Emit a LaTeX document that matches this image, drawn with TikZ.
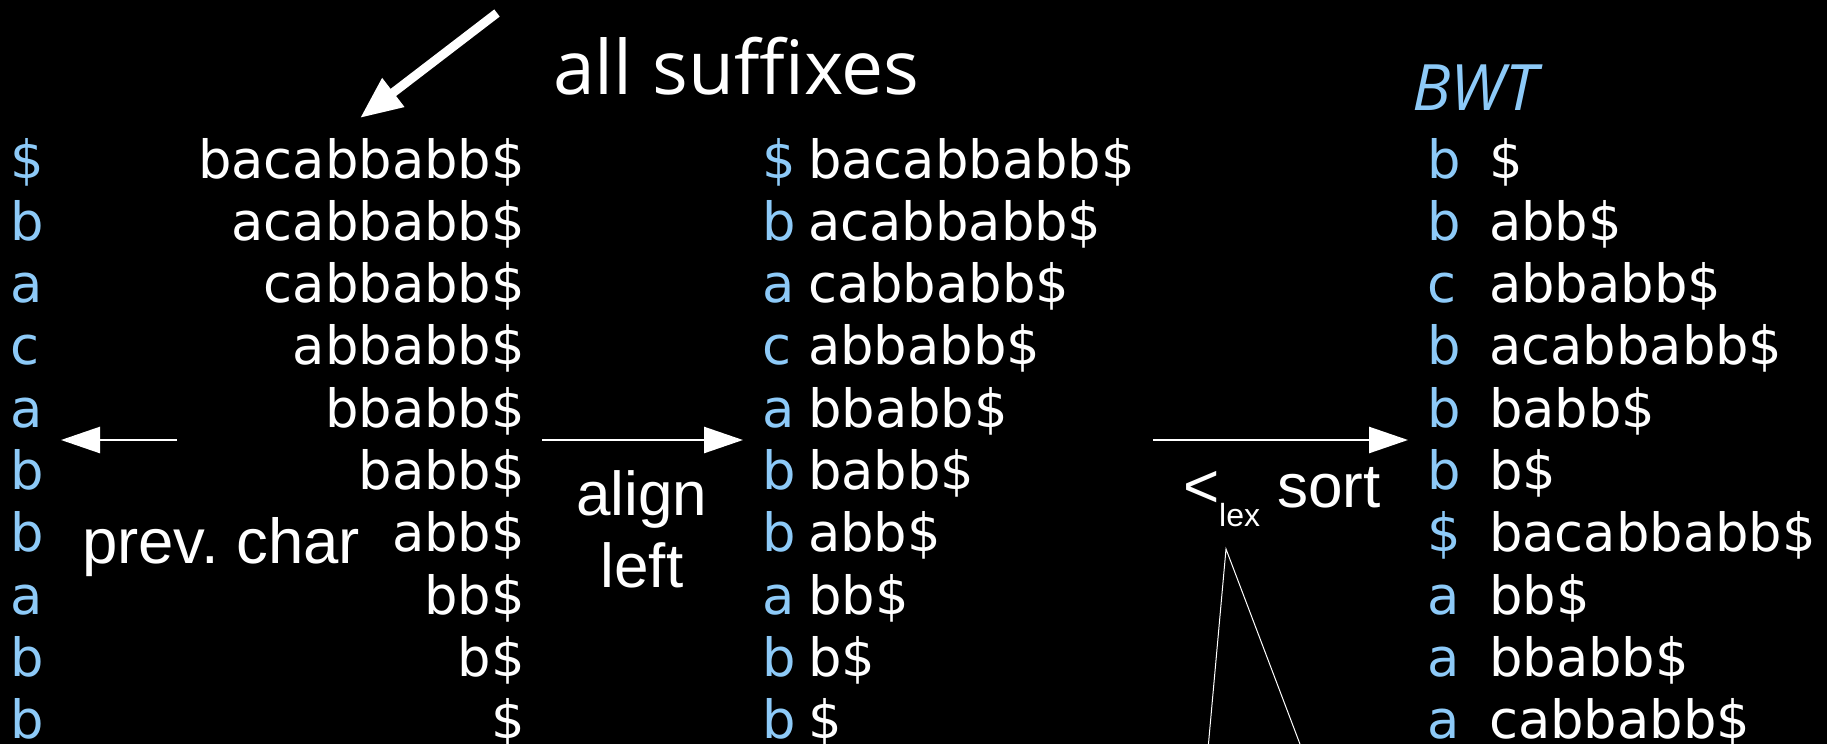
\documentclass[tikz,border=0pt]{standalone}
\usepackage{fontspec}
\setmainfont{DejaVu Sans}
\newfontfamily\lib{Liberation Sans}
\newfontfamily\osans{Open Sans}
\usetikzlibrary{arrows.meta}
\definecolor{bwtblue}{HTML}{8DCAF8}
\frenchspacing
\begin{document}
\begin{tikzpicture}[x=1pt,y=-1pt,
  str/.style={text=white, inner sep=0pt, font=\fontsize{52.7}{62}\selectfont},
  bl/.style={text=bwtblue, inner sep=0pt, font=\fontsize{52.7}{62}\selectfont},
  lbl/.style={text=white, inner sep=0pt, font=\lib\fontsize{62}{70}\selectfont},
  thinarrow/.style={draw=white, line width=2.6pt, -{Triangle[length=39pt,width=26pt]}},
  thickarrow/.style={draw=white, line width=9pt, -{Triangle[length=42pt,width=34pt]}},
  thinline/.style={draw=white, line width=1pt}]
\fill[black] (0,0) rectangle (1827,744);
\useasboundingbox (0,0) rectangle (1827,744);
% left column: previous characters and right-aligned suffixes
\foreach \c/\s [count=\i from 0] in {\$/bacabbabb\$, b/acabbabb\$, a/cabbabb\$, c/abbabb\$, a/bbabb\$, b/babb\$, b/abb\$, a/bb\$, b/b\$, b/\$}{
  \node[bl, anchor=base west] (p\i) at (10,{178+62.3*\i}) {\c};
  \node[str, anchor=base east] (s\i) at (525,{178+62.3*\i}) {\s};
  \node[bl, anchor=base west] (mp\i) at (762,{178+62.3*\i}) {\c};
  \node[str, anchor=base west] (ms\i) at (808,{178+62.3*\i}) {\s};
}
% right column: sorted suffixes with BWT
\foreach \c/\s [count=\i from 0] in {b/\$, b/abb\$, c/abbabb\$, b/acabbabb\$, b/babb\$, b/b\$, \$/bacabbabb\$, a/bb\$, a/bbabb\$, a/cabbabb\$}{
  \node[bl, anchor=base west] (rp\i) at (1427,{178+62.3*\i}) {\c};
  \node[str, anchor=base west] (rs\i) at (1489,{178+62.3*\i}) {\s};
}
% labels
\node[text=white, inner sep=0pt, anchor=base west, font=\osans\fontsize{75}{80}\selectfont] (allsuf) at (553,94) {all suffixes};
\node[text=bwtblue, inner sep=0pt, anchor=base west, font=\osans\itshape\fontsize{64}{70}\selectfont] (bwt) at (1412,110) {BWT};
\node[lbl, anchor=base west, font=\lib\fontsize{63.5}{70}\selectfont] (prev) at (82,563) {prev. char};
\node[lbl, anchor=base] (align1) at (642,515) {align};
\node[lbl, anchor=base] (align2) at (642,587) {left};
\node[lbl, anchor=base west] (lt) at (1183,507) {<};
\node[text=white, inner sep=0pt, anchor=base west, font=\lib\fontsize{32}{34}\selectfont] (lex) at (1219,526) {lex};
\node[lbl, anchor=base west] (sort) at (1277,507) {sort};
% arrows
\coordinate (a1s) at (497,13);
\coordinate (a1e) at (360,118);
\draw[thickarrow] (a1s) -- (a1e);
\coordinate (a2s) at (177,440);
\coordinate (a2e) at (61,440);
\draw[thinarrow] (a2s) -- (a2e);
\coordinate (a3s) at (542,440);
\coordinate (a3e) at (743,440);
\draw[thinarrow] (a3s) -- (a3e);
\coordinate (a4s) at (1153,440);
\coordinate (a4e) at (1408,440);
\draw[thinarrow] (a4s) -- (a4e);
% thin triangle below the sort label
\coordinate (apex) at (1226,549);
\coordinate (footl) at (1207,760);
\coordinate (footr) at (1306,760);
\draw[thinline] (footl) -- (apex) -- (footr);
\end{tikzpicture}
\end{document}
